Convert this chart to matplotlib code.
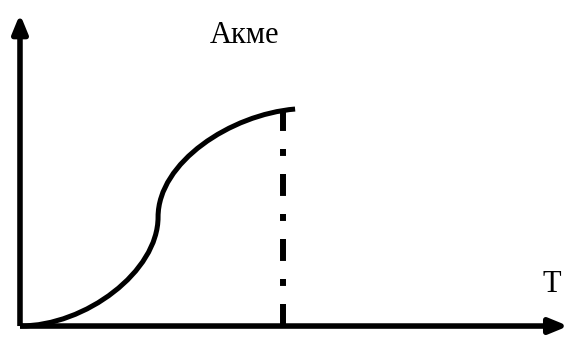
import matplotlib
matplotlib.use("Agg")
import matplotlib.pyplot as plt
from matplotlib.path import Path
from matplotlib.patches import PathPatch

plt.rcParams['font.family'] = ['Liberation Serif', 'DejaVu Serif']
plt.rcParams['lines.scale_dashes'] = False

# Curve (time vs. development) as two cubic Bezier segments:
# start, control, control, inflection, control, control, acme end
curve_t = [0.0, 2.5, 5.25, 5.25, 5.25, 8.0, 10.46]
curve_level = [0.0, 0.0, 2.5, 5.0, 7.5, 9.7, 9.95]
acme_t = 10.0
acme_level = 9.95
label_top = "Акме"
label_axis = "T"

fig = plt.figure(figsize=(5.66, 3.45), dpi=100)
ax = fig.add_axes([0, 0, 1, 1])
ax.set_xlim(-0.76, 20.76)
ax.set_ylim(-0.87, 14.95)
ax.axis('off')

# axes with arrows
arrow_style = "-|>,head_length=1.1,head_width=0.45"
ax.annotate('', xy=(0, 14.31), xytext=(0, 0),
            arrowprops=dict(arrowstyle=arrow_style, lw=4, color='black',
                            mutation_scale=10, shrinkA=0, shrinkB=0,
                            capstyle='butt'),
            annotation_clip=False)
ax.annotate('', xy=(20.85, 0), xytext=(0, 0),
            arrowprops=dict(arrowstyle=arrow_style, lw=4, color='black',
                            mutation_scale=10, shrinkA=0, shrinkB=0,
                            capstyle='butt'),
            annotation_clip=False)

# smooth S-curve
verts = list(zip(curve_t, curve_level))
codes = [Path.MOVETO] + [Path.CURVE4] * (len(verts) - 1)
curve = PathPatch(Path(verts, codes), facecolor='none', edgecolor='black',
                  lw=3.6, capstyle='butt', joinstyle='round')
ax.add_patch(curve)

# dash-dot line at acme
ax.plot([acme_t, acme_t], [acme_level, 0], color='black', lw=4.3,
        linestyle=(0, (15.8, 13, 5, 13)), dash_capstyle='butt')

ax.text(8.52, 12.98, label_top, fontsize=22, ha='center', va='baseline')
ax.text(20.23, 1.56, label_axis, fontsize=22, ha='center', va='baseline')

fig.savefig('out.png', dpi=100)
